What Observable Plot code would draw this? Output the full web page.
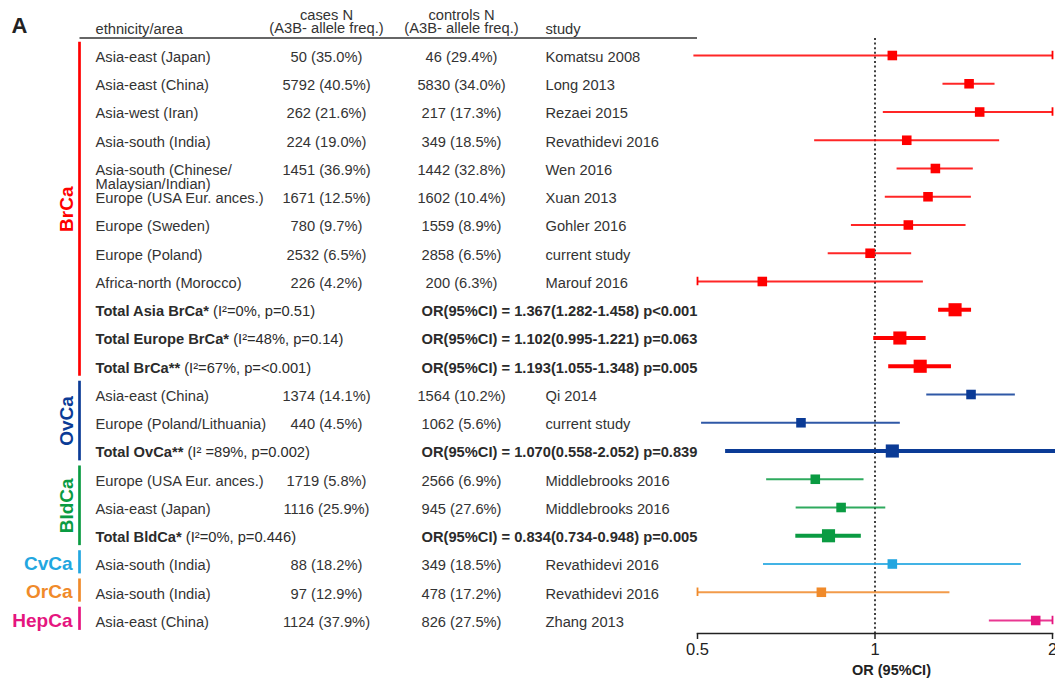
<!DOCTYPE html>
<html><head><meta charset="utf-8">
<script src="https://cdn.jsdelivr.net/npm/d3@7"></script>
<script src="https://cdn.jsdelivr.net/npm/@observablehq/plot@0.6"></script>
<style>html,body{margin:0;padding:0;background:#fff;overflow:hidden}</style>
</head><body><div id="chart"></div>
<script>
// ---------------- data ----------------
const groups = ["BrCa", "OvCa", "BldCa", "CvCa", "OrCa", "HepCa"];
const rowGroup = ["BrCa","BrCa","BrCa","BrCa","BrCa","BrCa","BrCa","BrCa","BrCa","BrCa","BrCa","BrCa",
  "OvCa","OvCa","OvCa","BldCa","BldCa","BldCa","CvCa","OrCa","HepCa"];
const areas = ["Asia-east (Japan)", "Asia-east (China)", "Asia-west (Iran)", "Asia-south (India)",
  "Asia-south (Chinese/\nMalaysian/Indian)", "Europe (USA Eur. ances.)", "Europe (Sweden)", "Europe (Poland)",
  "Africa-north (Morocco)", "Total Asia BrCa* (I²=0%, p=0.51)", "Total Europe BrCa* (I²=48%, p=0.14)",
  "Total BrCa** (I²=67%, p=<0.001)", "Asia-east (China)", "Europe (Poland/Lithuania)",
  "Total OvCa** (I² =89%, p=0.002)", "Europe (USA Eur. ances.)", "Asia-east (Japan)",
  "Total BldCa* (I²=0%, p=0.446)", "Asia-south (India)", "Asia-south (India)", "Asia-east (China)"];
const casesN = ["50 (35.0%)", "5792 (40.5%)", "262 (21.6%)", "224 (19.0%)", "1451 (36.9%)", "1671 (12.5%)",
  "780 (9.7%)", "2532 (6.5%)", "226 (4.2%)", "", "", "", "1374 (14.1%)", "440 (4.5%)", "",
  "1719 (5.8%)", "1116 (25.9%)", "", "88 (18.2%)", "97 (12.9%)", "1124 (37.9%)"];
const controlsN = ["46 (29.4%)", "5830 (34.0%)", "217 (17.3%)", "349 (18.5%)", "1442 (32.8%)", "1602 (10.4%)",
  "1559 (8.9%)", "2858 (6.5%)", "200 (6.3%)", "", "", "", "1564 (10.2%)", "1062 (5.6%)", "",
  "2566 (6.9%)", "945 (27.6%)", "", "349 (18.5%)", "478 (17.2%)", "826 (27.5%)"];
const studies = ["Komatsu 2008", "Long 2013", "Rezaei 2015", "Revathidevi 2016", "Wen 2016", "Xuan 2013",
  "Gohler 2016", "current study", "Marouf 2016", "", "", "", "Qi 2014", "current study", "",
  "Middlebrooks 2016", "Middlebrooks 2016", "", "Revathidevi 2016", "Revathidevi 2016", "Zhang 2013"];
const orValues = [1.070, 1.444, 1.505, 1.132, 1.266, 1.230, 1.139, 0.981, 0.644, 1.367, 1.102, 1.193,
  1.455, 0.749, 1.070, 0.792, 0.876, 0.834, 1.070, 0.811, 1.873];
const ciLow = [0.493, 1.304, 1.033, 0.790, 1.090, 1.041, 0.912, 0.833, 0.46, 1.282, 0.995, 1.055,
  1.224, 0.508, 0.558, 0.655, 0.735, 0.734, 0.647, 0.45, 1.563];
const ciHigh = [2.33, 1.598, 2.19, 1.627, 1.468, 1.457, 1.427, 1.154, 1.208, 1.458, 1.221, 1.348,
  1.730, 1.104, 2.052, 0.958, 1.043, 0.948, 1.771, 1.340, 2.24];
const totalP = ["p<0.001", "p=0.063", "p=0.005", "p=0.839", "p=0.005"];
const xTicks = [0.5, 1, 2];
const headers = ["ethnicity/area", "cases N\n(A3B- allele freq.)", "controls N\n(A3B- allele freq.)", "study"];

// ---------------- styles / layout ----------------
const groupColors = ["#ff0000", "#0b3b96", "#0a9b42", "#22a6e0", "#f08a2a", "#e5157f"];
const FONT = "'Liberation Sans', Arial, Helvetica, sans-serif";
const ML = 697;
const col = {bar: 79.5, area: 95, cases: 326, controls: 461, study: 545, summary: 421, glabel: 66, hlabel: 72};
const FS = 14.7, LH = 0.93, TXT = "#333", DY = -3.3;

// ---------------- derived table ----------------
const rows = areas.map((a, i) => ({
  i, area: a, cases: casesN[i], controls: controlsN[i], study: studies[i],
  or: orValues[i], lo: ciLow[i], hi: ciHigh[i], grp: rowGroup[i], total: a.startsWith("Total")
}));
let k = 0;
rows.forEach(r => {
  if (r.total) r.summary = `OR(95%CI) = ${r.or.toFixed(3)}(${r.lo.toFixed(3)}-${r.hi.toFixed(3)}) ${totalP[k++]}`;
  else {
    r.capLo = r.lo < 0.49; r.capHi = r.hi > 2;
    r.x1 = r.capLo ? 0.5 : r.lo; r.x2 = r.capHi ? 2 : r.hi;
  }
});
const ind = rows.filter(r => !r.total), tot = rows.filter(r => r.total);
const caps = ind.flatMap(r => [
  ...(r.capLo ? [{i: r.i, x: r.x1, grp: r.grp}] : []),
  ...(r.capHi ? [{i: r.i, x: r.x2, grp: r.grp}] : [])
]);
const spans = groups.map(g => {
  const idx = rows.filter(r => r.grp === g).map(r => r.i);
  return {grp: g, first: d3.min(idx), last: d3.max(idx)};
});

const colText = (data, text, x, extra = {}) => Plot.text(data, {
  y: "i", text, frameAnchor: "left", dx: x - ML, textAnchor: "start", lineAnchor: "top",
  dy: DY, lineHeight: LH, fill: TXT, fontSize: FS, ...extra
});

const decorations = (index, scales, values, dims) => {
  const g = d3.create("svg:g");
  g.append("line").attr("x1", col.bar).attr("x2", dims.marginLeft)
    .attr("y1", dims.marginTop).attr("y2", dims.marginTop)
    .attr("stroke", "#333").attr("stroke-width", 1.5);
  g.selectAll("line.gb").data(spans).join("line").attr("class", "gb")
    .attr("x1", col.bar).attr("x2", col.bar)
    .attr("y1", d => scales.y(d.first - 0.47)).attr("y2", d => scales.y(d.last + 0.35))
    .attr("stroke", d => scales.color(d.grp)).attr("stroke-width", 2.7);
  return g.node();
};

const chart = Plot.plot({
  width: 1055, height: 679,
  marginLeft: ML, marginRight: 3, marginTop: 38, marginBottom: 46,
  style: {fontFamily: FONT, fontSize: FS + "px", color: TXT, background: "#fff"},
  x: {type: "log", domain: [0.5, 2]},
  y: {domain: [-0.602, 20.46], reverse: true, axis: null},
  color: {domain: groups, range: groupColors},
  marks: [
    Plot.ruleX([1], {stroke: "#111", strokeWidth: 1.6, strokeDasharray: "2,2.6"}),
    Plot.frame({anchor: "bottom", stroke: "#222", strokeWidth: 1.5}),
    Plot.axisX({ticks: xTicks, tickFormat: d => String(d), tickSize: 6, tickPadding: 4, fontSize: 16.5,
      label: null, stroke: "#222", strokeWidth: 1.5, color: "#222"}),
    Plot.text(["OR (95%CI)"], {text: d => d, frameAnchor: "bottom", dx: 16.5, dy: 37, textAnchor: "middle",
      lineAnchor: "middle", fontWeight: "bold", fontSize: 14.5, fill: "#222"}),
    Plot.text(["A"], {text: d => d, frameAnchor: "top-left", dx: 11 - ML, dy: -13, textAnchor: "start",
      lineAnchor: "middle", fontWeight: "bold", fontSize: 22, fill: "#222"}),
    decorations,
    // CI lines
    Plot.ruleY(ind, {y: "i", x1: "x1", x2: "x2", stroke: "grp", strokeWidth: 1.8, strokeOpacity: 0.85}),
    Plot.ruleX(caps, {x: "x", y1: d => d.i - 0.15, y2: d => d.i + 0.15, stroke: "grp", strokeWidth: 1.8}),
    Plot.ruleY(tot, {y: "i", x1: "lo", x2: "hi", stroke: "grp", strokeWidth: 4}),
    Plot.dot(ind, {x: "or", y: "i", symbol: "square", r: 5.4, fill: "grp", stroke: null}),
    Plot.dot(tot, {x: "or", y: "i", symbol: "square", r: 7.4, fill: "grp", stroke: null}),
    // table
    Plot.text([headers[0]], {text: d => d, y: () => -1, frameAnchor: "left", dx: col.area - ML, textAnchor: "start",
      lineAnchor: "top", dy: DY, lineHeight: LH, fill: TXT, fontSize: FS}),
    Plot.text([headers[1]], {text: d => d, y: () => -1, frameAnchor: "left", dx: col.cases - ML, textAnchor: "middle",
      lineAnchor: "top", dy: -17.15, lineHeight: LH, fill: TXT, fontSize: FS}),
    Plot.text([headers[2]], {text: d => d, y: () => -1, frameAnchor: "left", dx: col.controls - ML, textAnchor: "middle",
      lineAnchor: "top", dy: -17.15, lineHeight: LH, fill: TXT, fontSize: FS}),
    Plot.text([headers[3]], {text: d => d, y: () => -1, frameAnchor: "left", dx: col.study - ML, textAnchor: "start",
      lineAnchor: "top", dy: DY, lineHeight: LH, fill: TXT, fontSize: FS}),
    colText(ind, "area", col.area),
    colText(tot, "area", col.area, {className: "totarea", fill: "#2b2b2b"}),
    colText(ind, "cases", col.cases, {textAnchor: "middle"}),
    colText(ind, "controls", col.controls, {textAnchor: "middle"}),
    colText(ind, "study", col.study),
    colText(tot, "summary", col.summary, {fontWeight: "bold", fill: "#2b2b2b"}),
    // group labels
    Plot.text(spans.filter(d => d.last > d.first), {
      y: d => (d.first - 0.47 + d.last + 0.35) / 2, text: "grp", rotate: -90, frameAnchor: "left",
      dx: col.glabel - ML, textAnchor: "middle", lineAnchor: "middle", fill: "grp", fontWeight: "bold", fontSize: 19
    }),
    Plot.text(spans.filter(d => d.last === d.first), {
      y: "first", text: "grp", frameAnchor: "left", dx: col.hlabel - ML, textAnchor: "end",
      lineAnchor: "middle", fill: "grp", fontWeight: "bold", fontSize: 19
    })
  ]
});

// bold lead + normal remainder for pooled rows
d3.select(chart).selectAll("g.totarea text").each(function () {
  const t = this.textContent;
  const cut = t.indexOf(" (");
  this.textContent = "";
  d3.select(this).append("tspan").attr("font-weight", "bold").text(t.slice(0, cut));
  d3.select(this).append("tspan").attr("font-weight", "normal").text(t.slice(cut));
});

document.getElementById("chart").append(chart);
</script>
</body></html>
